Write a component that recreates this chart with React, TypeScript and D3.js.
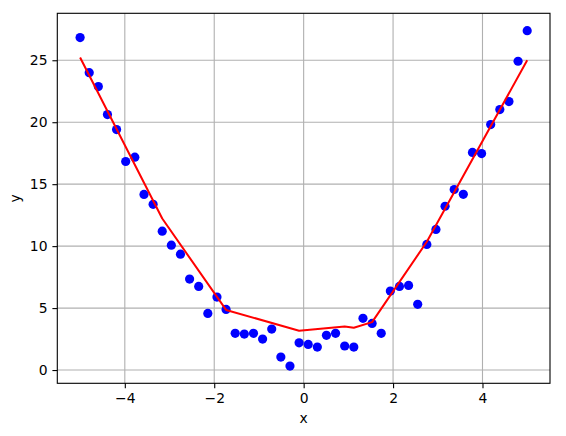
import * as d3 from 'd3';
import React, { useEffect, useRef } from 'react';

// scatter data (x = evenly spaced samples, y = noisy readings)
const xs = [
    -5.0, -4.796, -4.592, -4.388, -4.184, -3.98, -3.776, -3.571, -3.367, -3.163,
    -2.959, -2.755, -2.551, -2.347, -2.143, -1.939, -1.735, -1.531, -1.327, -1.122,
    -0.918, -0.714, -0.51, -0.306, -0.102, 0.102, 0.306, 0.51, 0.714, 0.918,
    1.122, 1.327, 1.531, 1.735, 1.939, 2.143, 2.347, 2.551, 2.755, 2.959,
    3.163, 3.367, 3.571, 3.776, 3.98, 4.184, 4.388, 4.592, 4.796, 5.0,
];
const ys = [
    26.83, 24.0, 22.88, 20.62, 19.41, 16.83, 17.18, 14.17, 13.37, 11.21,
    10.08, 9.35, 7.34, 6.75, 4.57, 5.89, 4.89, 2.96, 2.9, 2.96,
    2.5, 3.31, 1.05, 0.32, 2.2, 2.07, 1.85, 2.8, 2.96, 1.94,
    1.85, 4.17, 3.76, 2.96, 6.37, 6.75, 6.83, 5.3, 10.14, 11.35,
    13.22, 14.57, 14.18, 17.56, 17.47, 19.81, 21.02, 21.67, 24.92, 27.39,
];

// fitted curve (piecewise, knots)
const fitX = [-5.0, -3.163, -1.735, -0.102, 0.918, 1.122, 1.531, 2.755, 5.0];
const fitY = [25.22, 12.23, 4.85, 3.17, 3.52, 3.41, 3.87, 10.35, 25.0];

const xTicks = [-4, -2, 0, 2, 4];
const yTicks = [0, 5, 10, 15, 20, 25];

const W = 566;
const H = 436;

const App: React.FC = () => {
    const svgRef = useRef<SVGSVGElement | null>(null);

    useEffect(() => {
        const left = 57.3, right = 550, top = 13.3, bottom = 383.3;
        const font = '"DejaVu Sans", sans-serif';

        const svg = d3.select(svgRef.current);
        svg.selectAll('*').remove();
        svg.attr('width', W).attr('height', H);

        svg.append('rect').attr('width', W).attr('height', H).attr('fill', 'white');

        const x = d3.scaleLinear().domain([-5.51, 5.51]).range([left, right]);
        const y = d3.scaleLinear().domain([-1.07, 28.79]).range([bottom, top]);

        // grid
        const grid = svg.append('g').attr('stroke', '#b0b0b0').attr('stroke-width', 1.1);
        grid.selectAll('.gx').data(xTicks).enter().append('line')
            .attr('x1', d => x(d)).attr('x2', d => x(d))
            .attr('y1', top).attr('y2', bottom);
        grid.selectAll('.gy').data(yTicks).enter().append('line')
            .attr('x1', left).attr('x2', right)
            .attr('y1', d => y(d)).attr('y2', d => y(d));

        // scatter points
        svg.append('g').selectAll('circle')
            .data(xs.map((v, i) => [v, ys[i]]))
            .enter()
            .append('circle')
            .attr('cx', d => x(d[0]))
            .attr('cy', d => y(d[1]))
            .attr('r', 4.6)
            .attr('fill', '#0000ff');

        // fitted line on top
        const line = d3.line<number>()
            .x(d => x(d))
            .y((d, i) => y(fitY[i]));
        svg.append('path')
            .datum(fitX)
            .attr('d', line)
            .attr('fill', 'none')
            .attr('stroke', '#ff0000')
            .attr('stroke-width', 2)
            .attr('stroke-linejoin', 'round');

        // axes
        const xAxis = svg.append('g')
            .attr('transform', `translate(0,${bottom})`)
            .call(d3.axisBottom(x).tickValues(xTicks).tickSize(4.9).tickPadding(4.9)
                .tickFormat(d => String(d).replace('-', '\u2212')));
        const yAxis = svg.append('g')
            .attr('transform', `translate(${left},0)`)
            .call(d3.axisLeft(y).tickValues(yTicks).tickSize(4.9).tickPadding(4.9));

        [xAxis, yAxis].forEach(a => {
            a.select('.domain').remove();
            a.selectAll('line').attr('stroke', 'black').attr('stroke-width', 1.1);
            a.selectAll('text')
                .attr('fill', 'black')
                .style('font-family', font)
                .style('font-size', '13.9px');
        });

        // frame
        svg.append('rect')
            .attr('x', left).attr('y', top)
            .attr('width', right - left).attr('height', bottom - top)
            .attr('fill', 'none').attr('stroke', 'black').attr('stroke-width', 1.1);

        // labels
        svg.append('text')
            .attr('x', (left + right) / 2).attr('y', 423)
            .attr('text-anchor', 'middle')
            .style('font-family', font).style('font-size', '13.9px')
            .text('x');
        svg.append('text')
            .attr('transform', `translate(20,${(top + bottom) / 2}) rotate(-90)`)
            .attr('text-anchor', 'middle')
            .style('font-family', font).style('font-size', '13.9px')
            .text('y');
    }, []);

    return (
        <div style={{ position: 'absolute', left: 0, top: 0 }}>
            <svg ref={svgRef}></svg>
        </div>
    );
};

export default App;
